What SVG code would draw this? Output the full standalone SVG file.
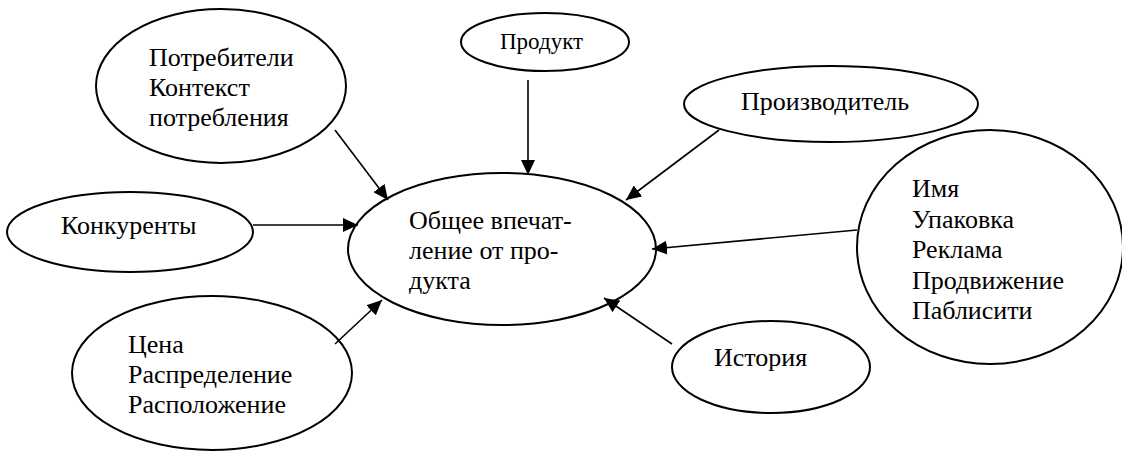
<svg xmlns="http://www.w3.org/2000/svg" width="1122" height="452" viewBox="0 0 1122 452">
<style>
.n{fill:#fff;stroke:#000;stroke-width:2}
.t{font-family:"Liberation Serif","Times New Roman","DejaVu Serif",serif;font-size:26px;fill:#000}
.s{font-size:23px}
.c line{stroke:#000;stroke-width:1.6;marker-end:url(#ah)}
</style>
<defs>
<marker id="ah" markerUnits="userSpaceOnUse" markerWidth="16" markerHeight="14" refX="15" refY="7" orient="auto">
<path d="M0,0 L15,7 L0,14 Z" fill="#000"/>
</marker>
</defs>
<rect width="1122" height="452" fill="#fff"/>
<g id="center"><ellipse class="n" cx="502" cy="249" rx="154" ry="76"/>
<text class="t" x="409" y="229">Общее впечат-</text>
<text class="t" x="409" y="259">ление от про-</text>
<text class="t" x="409" y="289">дукта</text></g>
<g id="consumers"><ellipse class="n" cx="221" cy="86" rx="125" ry="77"/>
<text class="t" x="149" y="66">Потребители</text>
<text class="t" x="149" y="96">Контекст</text>
<text class="t" x="149" y="126">потребления</text></g>
<g id="product"><ellipse class="n" cx="545" cy="42" rx="84" ry="29"/>
<text class="t s" x="500" y="49">Продукт</text></g>
<g id="producer"><ellipse class="n" cx="831" cy="104" rx="147" ry="38"/>
<text class="t" x="741" y="110">Производитель</text></g>
<g id="competitors"><ellipse class="n" cx="130" cy="232" rx="123" ry="40"/>
<text class="t" x="61" y="234">Конкуренты</text></g>
<g id="name"><ellipse class="n" cx="990" cy="247" rx="133" ry="117"/>
<text class="t" x="912" y="197">Имя</text>
<text class="t" x="912" y="227.5">Упаковка</text>
<text class="t" x="912" y="258">Реклама</text>
<text class="t" x="912" y="288.5">Продвижение</text>
<text class="t" x="912" y="319">Паблисити</text></g>
<g id="price"><ellipse class="n" cx="212" cy="373" rx="140" ry="77"/>
<text class="t" x="128" y="353">Цена</text>
<text class="t" x="128" y="383">Распределение</text>
<text class="t" x="128" y="413">Расположение</text></g>
<g id="history"><ellipse class="n" cx="771" cy="367" rx="99" ry="46"/>
<text class="t" x="714" y="366">История</text></g>
<g id="connectors" class="c">
<line x1="335" y1="130" x2="388" y2="200"/>
<line x1="528" y1="80" x2="528" y2="175"/>
<line x1="719" y1="130" x2="626" y2="200"/>
<line x1="253" y1="225" x2="358" y2="225"/>
<line x1="857" y1="230" x2="652" y2="249"/>
<line x1="335" y1="344" x2="382" y2="300"/>
<line x1="672" y1="344" x2="604" y2="298"/>
</g>
</svg>
